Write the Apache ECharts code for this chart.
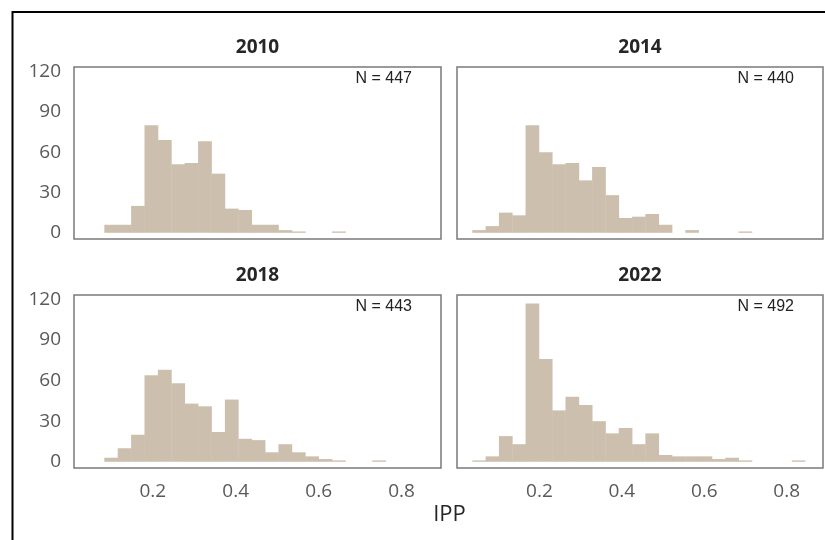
<!DOCTYPE html>
<html>
<head>
<meta charset="utf-8">
<script src="https://cdn.jsdelivr.net/npm/echarts@6/dist/echarts.min.js"></script>
<style>
html,body{margin:0;padding:0;background:#fff;}
#chart{width:825px;height:540px;}
</style>
</head>
<body>
<div id="chart"></div>
<script>
// ---- data ----
const years = ['2010', '2014', '2018', '2022'];
const sampleSizes = [447, 440, 443, 492];
const binStarts = [0.0831, 0.0371, 0.0831, 0.0371];
const binWidth = 0.0323;
const counts2010 = [6, 6, 20, 80, 69, 51, 52, 68, 44, 18, 17, 6, 6, 2, 1, 0, 0, 1];
const counts2014 = [2, 5, 15, 13, 80, 60, 51, 52, 39, 49, 28, 11, 12, 14, 6, 0, 2, 0, 0, 0, 1];
const counts2018 = [3, 10, 20, 64, 68, 58, 43, 41, 22, 46, 17, 16, 7, 13, 7, 4, 2, 1, 0, 0, 1];
const counts2022 = [1, 4, 19, 13, 117, 76, 38, 48, 42, 30, 21, 25, 13, 21, 5, 4, 4, 4, 2, 3, 1, 0, 0, 0, 1];
const yTicks = [0, 30, 60, 90, 120];
const xTicks = [0.2, 0.4, 0.6, 0.8];
const xAxisTitle = 'IPP';

const allCounts = [counts2010, counts2014, counts2018, counts2022];

// ---- layout ----
const grids = [
  {left: 74, top: 67, width: 367, height: 172},
  {left: 457, top: 67, width: 366, height: 172},
  {left: 74, top: 295, width: 367, height: 173},
  {left: 457, top: 295, width: 366, height: 173}
];
const xRanges = [[0.01, 0.895], [0.0, 0.888], [0.01, 0.895], [0.0, 0.888]];
const barColor = '#cdbfae';
const labelFont = '"Open Sans", "DejaVu Sans", sans-serif';

const chart = echarts.init(document.getElementById('chart'), null, {renderer: 'canvas'});

const option = {
  backgroundColor: '#ffffff',
  animation: false,
  grid: grids.map(g => Object.assign({}, g, {show: true, borderColor: '#7a7a7a', borderWidth: 1.5, backgroundColor: 'transparent', containLabel: false})),
  xAxis: grids.map((g, i) => ({
    type: 'value',
    gridIndex: i,
    min: xRanges[i][0],
    max: xRanges[i][1],
    splitLine: {show: false},
    axisLine: {show: false},
    axisTick: {show: false},
    axisLabel: {
      show: i >= 2,
      customValues: xTicks,
      formatter: v => v.toFixed(1),
      color: '#595959',
      fontSize: 19,
      fontFamily: labelFont,
      margin: 14
    }
  })),
  yAxis: grids.map((g, i) => ({
    type: 'value',
    gridIndex: i,
    min: -4.6,
    max: 123.3,
    splitLine: {show: false},
    axisLine: {show: false},
    axisTick: {show: false},
    axisLabel: {
      show: i % 2 === 0,
      customValues: yTicks,
      color: '#595959',
      fontSize: 19,
      fontFamily: labelFont,
      margin: 13
    }
  })),
  series: allCounts.map((counts, i) => ({
    type: 'custom',
    xAxisIndex: i,
    yAxisIndex: i,
    encode: {x: [0, 1], y: 2},
    data: counts.map((c, k) => [binStarts[i] + k * binWidth, binStarts[i] + (k + 1) * binWidth, c]),
    renderItem: function (params, api) {
      const c = api.value(2);
      if (!c) return null;
      const p0 = api.coord([api.value(0), 0]);
      const p1 = api.coord([api.value(1), c]);
      return {
        type: 'rect',
        shape: {x: p0[0], y: p1[1], width: p1[0] - p0[0] + 0.4, height: p0[1] - p1[1]},
        style: {fill: barColor}
      };
    }
  })),
  graphic: [
    {type: 'rect', silent: true, shape: {x: 12.5, y: 12, width: 900, height: 700},
     style: {fill: 'none', stroke: '#000', lineWidth: 2}, z: 100}
  ].concat(grids.map((g, i) => ({
    type: 'text', silent: true,
    x: g.left + g.width / 2,
    y: g.top - 19.5,
    style: {text: years[i], font: 'bold 19px ' + labelFont, fill: '#262626', align: 'center', verticalAlign: 'middle'}
  }))).concat(grids.map((g, i) => ({
    type: 'text', silent: true,
    x: g.left + g.width - 29,
    y: g.top + 12,
    style: {text: 'N = ' + sampleSizes[i], font: '16px "Liberation Sans", Arial, sans-serif', fill: '#222222', align: 'right', verticalAlign: 'middle'}
  }))).concat([
    {type: 'text', silent: true, x: 449.5, y: 515,
     style: {text: xAxisTitle, font: '22px ' + labelFont, fill: '#262626', align: 'center', verticalAlign: 'middle'}}
  ])
};

chart.setOption(option);
</script>
</body>
</html>
